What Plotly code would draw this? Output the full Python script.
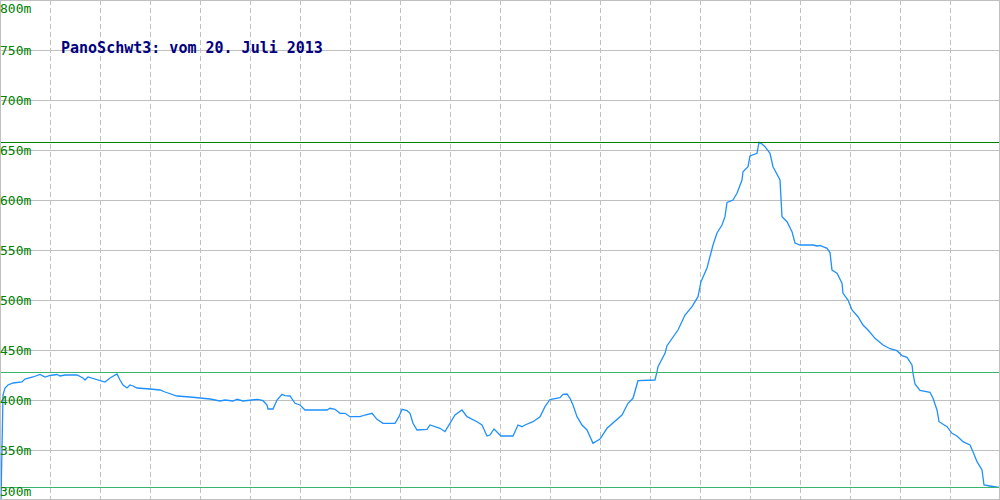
import plotly.graph_objects as go

# --- data -------------------------------------------------------------
distance = [0, 1, 3, 5, 8, 13, 22, 25, 33, 40, 45, 50, 57, 60, 65, 77, 83, 85, 88, 95,
            100, 105, 110, 115, 117, 120, 123, 127, 130, 133, 137, 150, 160, 165, 172, 177, 190,
            200, 210, 220, 225, 233, 237, 243, 250, 258, 263, 267, 268, 273, 277, 282, 285, 290, 295,
            300, 305, 327, 330, 335, 340, 345, 350, 360, 365, 372, 377, 383, 395, 399,
            402, 407, 410, 413, 417, 427, 430, 435, 440, 445, 450, 455, 462, 467, 477, 482, 487, 490, 494, 497,
            501, 513, 518, 522, 525, 533, 540, 545, 550, 560, 563, 567, 570, 573, 577, 582, 587, 593,
            600, 607, 613, 622, 628, 633, 638, 655, 657, 658, 665, 667, 678, 685, 692, 698,
            701, 707, 713, 717, 722, 725, 727, 733, 737, 742, 743, 748, 750, 757, 759, 762, 765, 770, 773, 777, 780,
            782, 787, 792, 795, 800, 813, 817, 820, 827, 830, 832, 837, 842, 843, 848, 852, 858, 863, 868, 875,
            883, 890, 897, 902, 907, 912, 913, 915, 920, 930, 933, 937, 939, 947, 952, 957, 963, 970, 973, 977,
            982, 984, 990, 995, 999]
elevation = [300, 300, 405, 412, 415, 417, 418, 421, 423, 425.5, 423, 424.5, 425.5, 424, 425, 425, 422, 420, 423, 421,
             420, 418, 422, 425, 426, 420, 415, 412, 415, 414, 412, 411, 410, 408, 406, 404, 403,
             402, 401, 399, 400, 399, 400.7, 399, 400, 400.7, 399.3, 395, 391, 391, 400, 405.7, 404.3, 404, 396.7,
             395, 390, 390, 391.7, 390.7, 386.7, 386.7, 383.3, 383.3, 385, 386.7, 380.7, 376.7, 376.7, 383.3,
             390.7, 389.3, 386.7, 376.7, 370, 370.7, 375, 373.3, 371.7, 368.3, 376.7, 385, 390, 383.3, 378.3, 375, 364, 365, 371, 368.3,
             364, 364, 375, 373.3, 375, 378.3, 383.3, 393.3, 400.5, 402.3, 405.7, 406, 401.7, 395, 383.3, 375, 370, 356.7,
             361, 371.7, 376.7, 385, 396.7, 401.7, 419.3, 420, 428.3, 433.3, 446.7, 454.3, 470, 485, 493.3, 503.3,
             518.3, 532, 555, 567, 575, 583.3, 597.5, 600, 606.7, 620, 628.3, 633.3, 644, 646.7, 657.7, 656, 653.3, 646.7, 633.3, 625, 620,
             583.3, 578.3, 568.3, 557, 555, 555, 554, 554.5, 551.7, 547.5, 530, 526.7, 516.7, 506.7, 500, 490, 483.3, 475, 470, 461.7,
             455, 451.3, 449.3, 444.3, 442.7, 435, 426.7, 416, 409.5, 407.7, 401.7, 390, 378.3, 373.3, 366.7, 364, 358.3, 355, 348.3, 338.3,
             330, 315, 314, 313.3, 312.7]

y_ticks = [300, 350, 400, 450, 500, 550, 600, 650, 700, 750, 800]
y_tick_labels = [f"{v}m" for v in y_ticks]
x_grid = list(range(50, 1000, 50))

max_level = 657.5
mid_level = 427.5
min_level = 312.5

title_text = "PanoSchwt3: vom 20. Juli 2013"

# --- figure -----------------------------------------------------------
fig = go.Figure()

fig.add_trace(go.Scatter(
    x=distance, y=elevation, mode="lines",
    line=dict(color="#1e90ff", width=1.3),
    hoverinfo="skip", showlegend=False,
))

shapes = []
# reference levels
for lvl, col in [(max_level, "#008000"), (mid_level, "#3cb371"), (min_level, "#3cb371")]:
    shapes.append(dict(type="line", xref="paper", x0=0, x1=1, yref="y", y0=lvl, y1=lvl,
                       line=dict(color=col, width=1), layer="above"))
# frame
frame_col = "#c0c0c0"
shapes += [
    dict(type="line", xref="x", yref="paper", x0=0.5, x1=0.5, y0=0, y1=1, line=dict(color=frame_col, width=1)),
    dict(type="line", xref="x", yref="paper", x0=999.5, x1=999.5, y0=0, y1=1, line=dict(color=frame_col, width=1)),
    dict(type="line", xref="paper", yref="y", x0=0, x1=1, y0=799.5, y1=799.5, line=dict(color=frame_col, width=1)),
    dict(type="line", xref="paper", yref="y", x0=0, x1=1, y0=300.5, y1=300.5, line=dict(color=frame_col, width=1)),
]

annotations = []
for v, lab in zip(y_ticks, y_tick_labels):
    if v == y_ticks[-1]:
        ya = "top"
    elif v == y_ticks[0]:
        ya = "bottom"
    else:
        ya = "middle"
    annotations.append(dict(
        x=0, xref="paper", xanchor="left", xshift=-1,
        y=v, yref="y", yanchor=ya,
        text=lab, showarrow=False, borderpad=0,
        font=dict(family="DejaVu Sans Mono", size=13, color="#008000"),
    ))

annotations.append(dict(
    x=60, xref="x", xanchor="left", y=752, yref="y", yanchor="middle",
    text=f"<b>{title_text}</b>", showarrow=False, borderpad=0,
    font=dict(family="DejaVu Sans Mono", size=15, color="#000080"),
))

fig.update_layout(
    width=1000, height=500,
    margin=dict(l=0, r=0, t=0, b=0),
    paper_bgcolor="white", plot_bgcolor="white",
    shapes=shapes, annotations=annotations,
    xaxis=dict(range=[0, 1000], tickvals=x_grid, showticklabels=False, ticks="",
               showgrid=True, gridcolor="#c0c0c0", gridwidth=1, griddash="5px,3px",
               zeroline=False, showline=False, fixedrange=True),
    yaxis=dict(range=[300, 800], tickvals=y_ticks, showticklabels=False, ticks="",
               showgrid=True, gridcolor="#c0c0c0", gridwidth=1,
               zeroline=False, showline=False, fixedrange=True),
)

fig.write_html("out.html", config={"displayModeBar": False})
